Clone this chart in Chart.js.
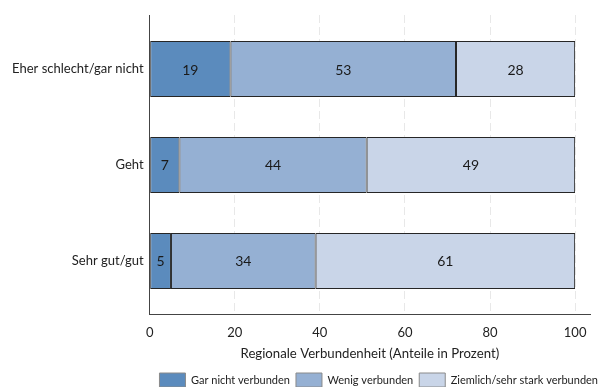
<!DOCTYPE html>
<html><head><meta charset="utf-8">
<script src="https://cdn.jsdelivr.net/npm/chart.js@4"></script>
<style>html,body{margin:0;padding:0;background:#fff}#wrap{width:600px;height:387px}</style>
</head><body><div id="wrap"><canvas id="c" width="600" height="387"></canvas></div>
<script>
const categories = ["Eher schlecht/gar nicht", "Geht", "Sehr gut/gut"];
const seriesNames = ["Gar nicht verbunden", "Wenig verbunden", "Ziemlich/sehr stark verbunden"];
const garNicht = [19, 7, 5];
const wenig = [53, 44, 34];
const ziemlich = [28, 49, 61];
const xTicks = [0, 20, 40, 60, 80, 100];
const colors = ["#5b8bbd", "#95b0d3", "#c9d5e8"];
const FONT = "Lato";

const labelPlugin = {
  id: 'barLabels',
  afterDatasetsDraw(chart){
    const ctx = chart.ctx;
    ctx.save();
    ctx.font = "14px " + FONT;
    ctx.fillStyle = "#1a1a1a";
    ctx.textAlign = "center";
    ctx.textBaseline = "middle";
    chart.data.datasets.forEach((ds, di) => {
      chart.getDatasetMeta(di).data.forEach((el, i) => {
        const p = el.getCenterPoint();
        ctx.fillText(String(ds.data[i].x), p.x, p.y + 1);
      });
    });
    ctx.restore();
  }
};

// push the legend row toward the right edge, as in the reference
const legendShift = {
  id: 'legendShift',
  afterLayout(chart){
    const lg = chart.legend;
    if (lg) lg.right = chart.width + lg.options.labels.padding - 2;
  }
};

new Chart(document.getElementById('c'), {
  type: 'bar',
  data: {
    datasets: [garNicht, wenig, ziemlich].map((vals, k) => ({
      label: seriesNames[k],
      data: vals.map((v, i) => ({ x: v, y: i })),
      backgroundColor: colors[k],
      borderColor: "#262626",
      borderWidth: 1,
      borderSkipped: false,
      inflateAmount: 0,
      barPercentage: 0.583,
      categoryPercentage: 1
    }))
  },
  options: {
    indexAxis: 'y',
    responsive: false,
    animation: false,
    layout: { padding: { top: 15, right: 10, left: 6, bottom: -10 } },
    scales: {
      x: {
        type: 'linear', stacked: true, min: 0, max: 103.5,
        afterBuildTicks(s){ s.ticks = xTicks.map(v=>({value:v})); },
        grid: { color: (c) => c.tick && c.tick.value === 0 ? 'rgba(0,0,0,0)' : '#e8e8e8', lineWidth: 1, drawTicks: false },
        border: { color: '#444', width: 1, dash: [8, 4] },
        ticks: { color: '#222', font: { family: FONT, size: 13 }, padding: 10, maxRotation: 0 },
        title: { display: true, text: "Regionale Verbundenheit (Anteile in Prozent)", color: '#222', font: { family: FONT, size: 13.2 }, padding: { top: -5, bottom: 5.6 } }
      },
      y: {
        type: 'linear', stacked: true, reverse: true, offset: false,
        min: -0.5625, max: 2.5625,
        afterBuildTicks(s){ s.ticks = categories.map((_, i) => ({ value: i })); },
        grid: { display: false, drawTicks: false, offset: false },
        border: { color: '#444', width: 1 },
        ticks: { color: '#222', font: { family: FONT, size: 13 }, padding: 6, callback: (v) => categories[v] }
      }
    },
    plugins: {
      legend: {
        position: 'bottom', align: 'end',
        labels: {
          color: '#222', font: { family: FONT, size: 11 }, boxWidth: 26, boxHeight: 14, padding: 6,
          generateLabels(chart){
            const items = Chart.defaults.plugins.legend.labels.generateLabels(chart);
            items.forEach(it => { it.strokeStyle = '#8a8a8a'; it.lineWidth = 1; });
            return items;
          }
        }
      },
      tooltip: { enabled: false }
    }
  },
  plugins: [labelPlugin, legendShift]
});
</script></body></html>
